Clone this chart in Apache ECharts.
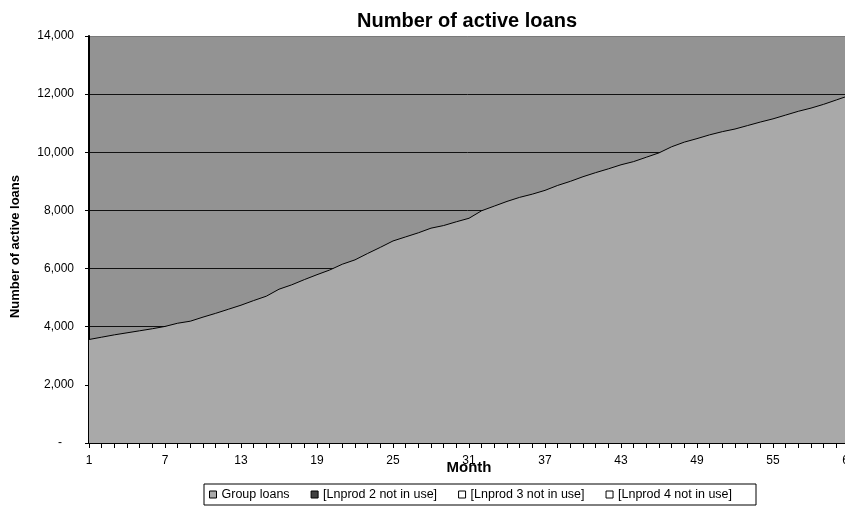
<!DOCTYPE html>
<html>
<head>
<meta charset="utf-8">
<script src="https://cdn.jsdelivr.net/npm/echarts@6/dist/echarts.min.js"></script>
<style>
  html, body { margin: 0; padding: 0; background: #fff; }
  #chart { width: 845px; height: 507px; }
</style>
</head>
<body>
<div id="chart"></div>
<script>
// Months 1..61
const months = [];
for (let m = 1; m <= 61; m++) months.push(String(m));

// Active group loans per month
const groupLoans = [
  3560, 3640, 3720, 3790, 3860, 3930, 4010, 4120, 4190, 4330,
  4460, 4600, 4740, 4900, 5050, 5290, 5440, 5620, 5790, 5950,
  6150, 6300, 6520, 6730, 6950, 7090, 7230, 7390, 7480, 7610,
  7730, 7990, 8150, 8310, 8450, 8560, 8690, 8860, 9000, 9160,
  9300, 9430, 9570, 9680, 9830, 9980, 10190, 10350, 10470, 10600,
  10710, 10800, 10920, 11040, 11150, 11280, 11410, 11520, 11650, 11800,
  11950
];

const seriesNames = [
  'Group loans',
  '[Lnprod 2 not in use]',
  '[Lnprod 3 not in use]',
  '[Lnprod 4 not in use]'
];

const FONT = 'Liberation Sans, Arial, sans-serif';
const chart = echarts.init(document.getElementById('chart'));

chart.setOption({
  animation: false,
  backgroundColor: '#ffffff',
  title: {
    text: 'Number of active loans',
    left: 462,
    top: 6,
    textAlign: 'center',
    textStyle: { fontFamily: FONT, fontSize: 20, fontWeight: 'bold', color: '#000' }
  },
  legend: {
    left: 204,
    top: 484,
    icon: 'rect',
    itemWidth: 7,
    itemHeight: 7,
    itemGap: 21,
    padding: [4, 24, 4, 5],
    borderColor: '#000',
    borderWidth: 1,
    itemStyle: { borderColor: '#000', borderWidth: 1 },
    textStyle: { fontFamily: FONT, fontSize: 12.5, color: '#000' },
    data: seriesNames.map(n => ({ name: n, icon: 'rect' }))
  },
  grid: {
    left: 89,
    top: 36,
    width: 760,
    height: 407,
    outerBoundsMode: 'none',
    containLabel: false,
    show: true,
    backgroundColor: '#939393',
    borderWidth: 0
  },
  xAxis: {
    type: 'category',
    data: months,
    boundaryGap: false,
    name: 'Month',
    nameLocation: 'middle',
    nameGap: 17,
    nameMoveOverlap: false,
    nameTextStyle: { fontFamily: FONT, fontSize: 15, fontWeight: 'bold', color: '#000' },
    axisLine: { lineStyle: { color: '#000', width: 2 } },
    axisTick: { interval: 0, length: 5, lineStyle: { color: '#000', width: 1 } },
    axisLabel: {
      interval: 5,
      margin: 12,
      fontFamily: FONT,
      fontSize: 12,
      color: '#000'
    },
    splitLine: { show: false }
  },
  yAxis: {
    type: 'value',
    min: 0,
    max: 14000,
    interval: 2000,
    name: 'Number of active loans',
    nameLocation: 'middle',
    nameGap: 67,
    nameRotate: 90,
    nameMoveOverlap: false,
    nameTextStyle: {
      fontFamily: FONT, fontSize: 13, fontWeight: 'bold', color: '#000',
      padding: [0, 14, 0, 0]
    },
    axisLine: { show: true, lineStyle: { color: '#000', width: 2 } },
    axisTick: { show: true, length: 4, lineStyle: { color: '#000' } },
    axisLabel: {
      margin: 15,
      fontFamily: FONT,
      fontSize: 12,
      color: '#000',
      formatter: v => v === 0 ? '{d|-}' : v.toLocaleString('en-US'),
      rich: { d: { padding: [0, 12, 0, 0], fontFamily: FONT, fontSize: 12, color: '#000' } }
    },
    splitLine: {
      show: true,
      lineStyle: {
        color: ['#000', '#111', '#111', '#111', '#111', '#111', '#111', '#7a7a7a'],
        width: 1
      }
    }
  },
  series: [
    {
      name: seriesNames[0],
      type: 'line',
      data: groupLoans,
      symbol: 'none',
      lineStyle: { color: '#000', width: 1 },
      itemStyle: { color: '#a9a9a9' },
      areaStyle: { color: '#a9a9a9', opacity: 1 }
    },
    { name: seriesNames[1], type: 'line', data: [], symbol: 'none', itemStyle: { color: '#404040' } },
    { name: seriesNames[2], type: 'line', data: [], symbol: 'none', itemStyle: { color: '#ffffff' } },
    { name: seriesNames[3], type: 'line', data: [], symbol: 'none', itemStyle: { color: '#ffffff' } }
  ]
});
</script>
</body>
</html>
